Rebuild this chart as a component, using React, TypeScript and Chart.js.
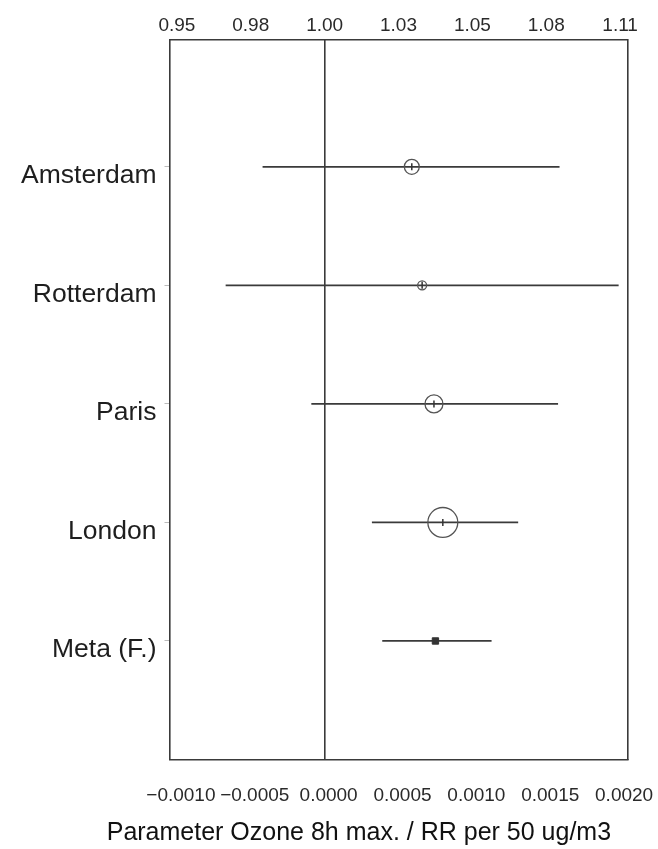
import React, { useEffect, useRef } from 'react';
import { Chart, registerables } from 'chart.js';

Chart.register(...registerables);

const cities = ['Amsterdam', 'Rotterdam', 'Paris', 'London', 'Meta (F.)'];
const estimates = [0.00059, 0.00066, 0.00074, 0.0008, 0.00075];
const lowerCI = [-0.00042, -0.00067, -0.00009, 0.00032, 0.00039];
const upperCI = [0.00159, 0.00199, 0.00158, 0.00131, 0.00113];
// relative study weight (%), shown as circle area; the meta estimate has none
const weights: (number | null)[] = [14.7, 5.3, 21.2, 58.8, null];
const betaTicks = [-0.001, -0.0005, 0, 0.0005, 0.001, 0.0015, 0.002];
const betaTickLabels = ['\u22120.0010', '\u22120.0005', '0.0000', '0.0005', '0.0010', '0.0015', '0.0020'];
const rrTickLabels = ['0.95', '0.98', '1.00', '1.03', '1.05', '1.08', '1.11'];
const xTitle = 'Parameter Ozone 8h max. / RR per 50 ug/m3';

const FONT = "'Liberation Sans', Arial, Helvetica, sans-serif";
const X_MIN = -0.00105;
const X_MAX = 0.00205;

export default function App() {
  const ref = useRef<HTMLCanvasElement | null>(null);

  useEffect(() => {
    document.body.style.margin = '0';
    const canvas = ref.current;
    if (!canvas) return;

    const ciSets = cities.map((c, i) => ({
      type: 'scatter' as const,
      label: c + ' CI',
      data: [
        { x: lowerCI[i], y: i + 1 },
        { x: upperCI[i], y: i + 1 },
      ],
      showLine: true,
      borderColor: '#3a3a3a',
      borderWidth: 1.7,
      pointRadius: 0,
      xAxisID: 'x',
      yAxisID: 'y',
    }));

    const studyIdx = cities.map((_, i) => i).filter((i) => weights[i] != null);
    const metaIdx = cities.map((_, i) => i).filter((i) => weights[i] == null);

    const circleSet = {
      type: 'scatter' as const,
      label: 'weights',
      data: studyIdx.map((i) => ({ x: estimates[i], y: i + 1 })),
      pointStyle: 'circle',
      pointRadius: studyIdx.map((i) => 1.95 * Math.sqrt(weights[i] as number)),
      backgroundColor: 'rgba(0,0,0,0)',
      borderColor: '#555',
      borderWidth: 1.3,
      xAxisID: 'x',
      yAxisID: 'y',
    };

    const tickSet = {
      type: 'scatter' as const,
      label: 'estimates',
      data: studyIdx.map((i) => ({ x: estimates[i], y: i + 1 })),
      pointStyle: 'line',
      rotation: 90,
      pointRadius: 3.5,
      borderColor: '#333',
      borderWidth: 1.5,
      xAxisID: 'x',
      yAxisID: 'y',
    };

    const metaSet = {
      type: 'scatter' as const,
      label: 'meta',
      data: metaIdx.map((i) => ({ x: estimates[i], y: i + 1 })),
      pointStyle: 'rect',
      pointRadius: 4.5,
      backgroundColor: '#333',
      borderColor: '#333',
      borderWidth: 1,
      xAxisID: 'x',
      yAxisID: 'y',
    };

    const tickFont = { family: FONT, size: 19 };
    // leading spaces move the centred title to the right, as in the original
    const titleText = '\u00A0'.repeat(13) + xTitle;

    const chart = new Chart(canvas, {
      type: 'scatter',
      data: { datasets: [tickSet, metaSet, circleSet, ...ciSets] as any },
      options: {
        animation: false,
        responsive: false,
        devicePixelRatio: 1,
        layout: { padding: { left: 0, right: 30.5, top: 0, bottom: 0 } },
        plugins: {
          legend: { display: false },
          tooltip: { enabled: false },
          title: {
            display: true,
            position: 'bottom',
            text: titleText,
            color: '#111',
            font: { family: FONT, size: 25, weight: 'normal', lineHeight: 1.2 },
            padding: { top: 0, bottom: 1 },
          },
        },
        scales: {
          x: {
            type: 'linear',
            position: 'bottom',
            min: X_MIN,
            max: X_MAX,
            afterBuildTicks: (axis: any) => {
              axis.ticks = betaTicks.map((v) => ({ value: v }));
            },
            afterFit: (axis: any) => {
              axis.height = 58.5;
              axis.paddingLeft = 0;
              axis.paddingRight = 0;
            },
            ticks: {
              autoSkip: false,
              maxRotation: 0,
              minRotation: 0,
              padding: 25,
              labelOffset: 4,
              color: '#2a2a2a',
              font: tickFont,
              callback: (_v: any, i: number) => betaTickLabels[i],
            },
            grid: {
              drawTicks: false,
              lineWidth: 1.6,
              color: (ctx: any) => (ctx.tick && ctx.tick.value === 0 ? '#3a3a3a' : 'rgba(0,0,0,0)'),
            },
            border: { display: true, color: '#3a3a3a', width: 1.6 },
          },
          xTop: {
            type: 'linear',
            position: 'top',
            min: X_MIN,
            max: X_MAX,
            afterBuildTicks: (axis: any) => {
              axis.ticks = betaTicks.map((v) => ({ value: v }));
            },
            afterFit: (axis: any) => {
              axis.height = 40;
              axis.paddingLeft = 0;
              axis.paddingRight = 0;
            },
            ticks: {
              autoSkip: false,
              maxRotation: 0,
              minRotation: 0,
              padding: 3,
              color: '#2a2a2a',
              font: tickFont,
              callback: (_v: any, i: number) => rrTickLabels[i],
            },
            grid: { display: false, drawTicks: false },
            border: { display: true, color: '#3a3a3a', width: 1.6 },
          },
          y: {
            type: 'linear',
            position: 'left',
            reverse: true,
            min: -0.07,
            max: 6.0,
            afterBuildTicks: (axis: any) => {
              axis.ticks = cities.map((_, i) => ({ value: i + 1 }));
            },
            afterFit: (axis: any) => {
              axis.width = 169.5;
              axis.paddingTop = 0;
              axis.paddingBottom = 0;
            },
            ticks: {
              autoSkip: false,
              padding: 8,
              labelOffset: 9,
              color: '#1e1e1e',
              font: { family: FONT, size: 26.5 },
              callback: (_v: any, i: number) => cities[i],
            },
            grid: {
              drawOnChartArea: false,
              drawTicks: true,
              tickLength: 5,
              color: '#bbb',
              lineWidth: 1,
            },
            border: { display: true, color: '#3a3a3a', width: 1.6 },
          },
          yRight: {
            type: 'linear',
            position: 'right',
            min: -0.07,
            max: 6.0,
            afterFit: (axis: any) => {
              axis.width = 0;
            },
            ticks: { display: false },
            grid: { display: false, drawTicks: false },
            border: { display: true, color: '#3a3a3a', width: 1.6 },
          },
        },
      } as any,
    });

    return () => {
      chart.destroy();
    };
  }, []);

  return <canvas ref={ref} width={658} height={849} style={{ display: 'block' }} />;
}
